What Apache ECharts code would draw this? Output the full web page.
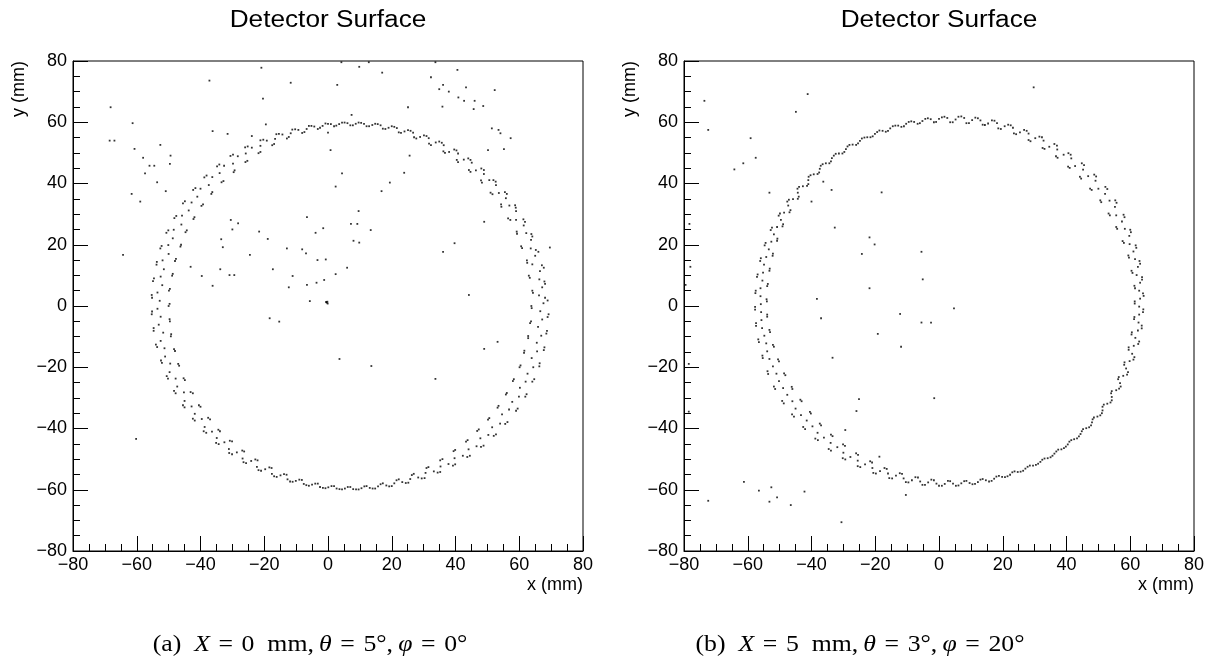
<!DOCTYPE html>
<html>
<head>
<meta charset="utf-8">
<title>Detector Surface</title>
<script src="https://cdn.jsdelivr.net/npm/echarts@6/dist/echarts.min.js"></script>
<style>
  html, body { margin: 0; padding: 0; background: #fff; }
  #chart { width: 1213px; height: 661px; }
</style>
</head>
<body>
<div id="chart"></div>
<script>
// hits on the detector surface, (x, y) in mm
// (a) X = 0 mm, theta = 5 deg, phi = 0 deg
const ringA = [
  [63.8,0],[68.9,1.8],[66.2,3.5],[64.1,5.0],[68.1,7.2],[66.3,8.7],[63.0,9.9],[67.7,12.5],[64.1,13.6],
  [62.4,14.9],[66.0,17.7],[63.6,18.8],[60.6,19.5],[64.1,22.7],[62.2,23.8],[59.2,24.3],[61.8,27.5],[59.0,28.1],
  [56.5,28.6],[58.9,32.1],[56.9,32.8],[54.3,33.2],[56.1,36.6],[53.6,36.9],[51.0,37.0],[52.6,40.6],[50.6,41.1],
  [48.0,41.0],[48.9,44.4],[46.4,44.3],[44.2,44.4],[44.7,47.7],[42.6,47.8],[40.4,47.7],[40.3,50.8],[38.0,50.3],
  [36.2,50.5],[35.7,53.3],[33.8,53.4],[31.7,53.0],[30.9,55.5],[28.9,55.2],[27.0,55.1],[25.9,57.2],[24.0,57.0],
  [22.2,56.7],[20.8,58.5],[19.0,58.2],[17.2,57.9],[15.6,59.4],[13.9,59.1],[12.1,58.7],[10.4,59.8],[8.7,59.5],
  [7.0,59.0],[5.2,59.9],[3.5,59.4],[1.9,58.7],[0.0,59.5],[-1.7,58.8],[-3.2,57.8],[-5.2,58.8],[-6.7,57.8],
  [-8.1,56.5],[-10.3,57.7],[-11.7,56.4],[-12.9,54.7],[-15.4,56.2],[-16.6,54.6],[-17.5,52.5],[-20.3,54.3],[-21.2,52.3],
  [-21.8,49.9],[-25.2,52.1],[-25.8,49.8],[-25.9,47.0],[-29.8,49.4],[-29.8,46.5],[-29.6,43.7],[-34.1,46.2],[-34.0,43.4],
  [-33.4,40.4],[-38.1,42.6],[-37.4,39.5],[-36.6,36.6],[-41.6,38.5],[-41.0,35.7],[-39.7,32.7],[-44.9,34.2],[-43.7,31.2],
  [-42.2,28.4],[-47.6,29.4],[-46.0,26.6],[-44.7,24.1],[-50.1,24.7],[-48.7,22.1],[-46.3,19.4],[-52.2,19.6],[-50.0,17.0],
  [-48.0,14.7],[-53.7,14.4],[-51.5,12.0],[-48.9,9.9],[-54.6,9.0],[-52.0,6.8],[-49.9,5.0],[-55.3,3.6],[-52.8,1.7],
  [-50.0,0],[-55.2,-1.8],[-52.5,-3.5],[-49.6,-5.0],[-54.7,-7.2],[-51.7,-8.7],[-49.3,-9.9],[-54.0,-12.6],[-51.3,-13.8],
  [-48.0,-14.7],[-52.4,-17.8],[-49.5,-18.8],[-46.7,-19.5],[-50.6,-22.9],[-47.8,-23.7],[-44.9,-24.2],[-48.3,-27.7],[-45.2,-28.2],
  [-42.4,-28.5],[-45.5,-32.4],[-42.8,-32.8],[-40.0,-32.9],[-42.4,-36.8],[-39.6,-36.9],[-37.0,-37.0],[-39.0,-40.9],[-36.4,-41.0],
  [-33.9,-40.9],[-35.1,-44.7],[-32.5,-44.5],[-30.1,-44.2],[-31.0,-48.0],[-28.6,-47.8],[-26.3,-47.5],[-26.5,-51.0],[-24.1,-50.6],
  [-22.1,-50.4],[-21.8,-53.6],[-19.7,-53.3],[-17.7,-52.9],[-16.9,-55.6],[-14.9,-55.3],[-13.0,-55.1],[-11.9,-57.3],[-10.1,-57.1],
  [-8.2,-56.8],[-6.8,-58.5],[-5.0,-58.3],[-3.2,-58.0],[-1.6,-59.4],[0.1,-59.2],[1.9,-58.8],[3.6,-59.8],[5.3,-59.6],
  [7.0,-59.1],[8.8,-59.9],[10.5,-59.5],[12.1,-58.8],[14.0,-59.6],[15.7,-58.9],[17.2,-57.9],[19.2,-58.9],[20.8,-57.9],
  [22.2,-56.6],[24.4,-57.8],[25.8,-56.5],[26.9,-54.8],[29.4,-56.3],[30.6,-54.5],[31.5,-52.6],[34.4,-54.4],[35.3,-52.4],
  [35.9,-50.0],[39.2,-52.1],[39.7,-49.7],[39.9,-47.0],[43.7,-49.3],[44.1,-46.8],[43.8,-43.8],[48.0,-46.0],[47.8,-43.2],
  [47.3,-40.3],[52.0,-42.4],[51.5,-39.6],[50.6,-36.6],[55.6,-38.5],[54.6,-35.4],[53.5,-32.6],[59.0,-34.2],[57.8,-31.3],
  [56.1,-28.4],[61.9,-29.6],[60.2,-26.7],[58.3,-23.9],[64.1,-24.7],[62.6,-22.1],[60.4,-19.4],[66.3,-19.7],[63.9,-17.0],
  [61.6,-14.6],[67.7,-14.4],[65.5,-12.0],[62.8,-9.8],[68.5,-9.0],[65.9,-6.8],[63.7,-5.0],[68.9,-3.6],[66.6,-1.7],
  [68.1,2.7],[64.3,4.3],[67.2,6.1],[67.9,8.0],[63.3,9.2],[66.5,11.4],[67.1,13.3],[62.5,14.1],[65.0,16.4],
  [65.2,18.3],[60.9,18.9],[63.7,21.6],[63.8,23.5],[59.3,23.6],[61.4,26.3],[61.3,28.3],[57.2,28.1],[59.0,31.0],
  [58.7,32.9],[54.4,32.4],[55.8,35.2],[55.5,37.2],[51.6,36.5],[52.7,39.5],[51.9,41.1],[48.3,40.3],[48.9,43.1],
  [48.1,44.9],[44.7,43.8],[45.1,46.8],[44.0,48.2],[40.8,47.0],[40.8,49.8],[39.6,51.1],[36.7,50.0],[36.3,52.5],
  [34.9,53.7],[32.3,52.5],[31.6,54.8],[30.1,55.7],[27.7,54.7],[26.7,56.6],[25.1,57.4],[22.9,56.5],[21.6,58.1],
  [20.0,58.7],[18.0,57.8],[16.5,59.0],[14.8,59.5],[12.9,58.7],[11.3,59.5],[9.6,59.9],[7.8,59.0],[6.1,59.7],
  [4.4,59.9],[2.6,58.9],[0.9,59.4],[-0.8,59.6],[-2.5,58.2],[-4.3,58.6],[-6.0,58.8],[-7.4,56.8],[-9.3,57.5],
  [-11.2,57.6],[-12.3,55.2],[-14.3,56.0],[-16.2,56.1],[-16.9,52.9],[-19.2,54.0],[-21.2,54.1],[-21.2,50.3],[-23.9,51.7],
  [-26.0,51.8],[-25.3,47.4],[-28.3,48.9],[-30.6,49.0],[-29.3,44.3],[-32.6,45.8],[-34.8,45.6],[-32.8,40.8],[-36.3,42.1],
  [-38.8,42.0],[-36.3,37.2],[-40.0,38.3],[-42.3,37.9],[-39.2,33.2],[-42.8,33.8],[-45.5,33.5],[-41.9,29.0],[-45.8,29.5],
  [-48.2,28.7],[-44.3,24.7],[-48.4,24.9],[-50.7,23.9],[-46.1,20.0],[-50.1,19.9],[-52.6,18.8],[-47.7,15.4],[-51.9,14.9],
  [-53.8,13.5],[-48.7,10.5],[-52.5,9.6],[-54.9,8.1],[-49.6,5.6],[-53.5,4.4],[-55.2,2.7],[-49.7,0.7],[-53.5,-0.9],
  [-55.3,-2.7],[-49.7,-4.3],[-53.1,-6.1],[-54.7,-8.1],[-49.2,-9.2],[-52.5,-11.4],[-53.6,-13.4],[-48.3,-14.1],[-51.1,-16.5],
  [-52.1,-18.6],[-47.0,-18.9],[-49.7,-21.6],[-50.2,-23.7],[-45.3,-23.6],[-47.3,-26.3],[-47.8,-28.5],[-43.1,-28.1],[-45.0,-31.0],
  [-45.0,-33.1],[-40.5,-32.4],[-41.8,-35.2],[-41.8,-37.4],[-37.6,-36.5],[-38.7,-39.5],[-38.2,-41.4],[-34.4,-40.4],[-34.9,-43.1],
  [-34.3,-45.1],[-30.8,-44.0],[-31.1,-46.7],[-30.1,-48.4],[-26.9,-47.2],[-26.8,-49.8],[-25.7,-51.3],[-22.8,-50.1],[-22.3,-52.5],
  [-21.0,-53.8],[-18.4,-52.7],[-17.6,-54.8],[-16.1,-55.8],[-13.8,-54.9],[-12.7,-56.6],[-11.1,-57.4],[-9.0,-56.7],[-7.6,-58.1],
  [-6.0,-58.7],[-4.0,-58.0],[-2.5,-59.1],[-0.8,-59.5],[1.1,-58.8],[2.7,-59.6],[4.4,-59.9],[6.2,-59.1],[7.9,-59.8],
  [9.6,-59.9],[11.4,-58.9],[13.1,-59.4],[14.8,-59.6],[16.5,-58.2],[18.3,-58.6],[20.0,-58.8],[21.5,-56.9],[23.3,-57.5],
  [25.2,-57.7],[26.3,-55.2],[28.3,-56.0],[30.3,-56.2],[30.9,-52.9],[33.2,-54.0],[35.2,-54.2],[35.2,-50.4],[37.8,-51.6],
  [39.9,-51.7],[39.4,-47.4],[42.3,-48.9],[44.5,-48.9],[43.3,-44.3],[46.6,-45.8],[48.8,-45.6],[46.8,-40.8],[50.3,-42.1],
  [52.7,-41.9],[50.2,-37.1],[54.0,-38.4],[56.3,-37.9],[53.2,-33.2],[56.8,-33.8],[59.5,-33.5],[55.8,-28.9],[59.9,-29.6],
  [62.3,-28.8],[58.0,-24.5],[62.0,-24.7],[64.7,-23.9],[60.1,-20.0],[64.4,-20.0],[66.4,-18.7],[61.5,-15.3],[65.6,-14.8],
  [67.9,-13.5],[62.8,-10.5],[66.9,-9.7],[68.7,-8.1],[63.4,-5.6],[67.2,-4.4],[69.2,-2.7],[63.9,-0.7],[67.6,0.9]
];
const strayA = [
  [-68.2,64.9],[-68.5,54],[-67,54],[-61.3,59.7],[-60.7,51.3],[-58,48.4],[-56,45.8],[-54.5,45.8],[-52.6,52.6],
  [-49.4,49.1],[-49.6,46.4],[-57.4,43.3],[-53.6,40.4],[-61.6,36.6],[-58.9,34.1],[-50.9,37.5],[-64.3,16.7],
  [-37.2,73.6],[-36.2,57.1],[-31.5,56.2],[-23.9,55.5],[-20.9,77.8],[-20.4,67.7],[-19.5,59.3],[-11.7,72.9],
  [2.9,72.2],[4.2,79.6],[9.8,78.1],[12.8,79.6],[17,76.2],[25.1,64.9],[32.3,74.7],[33.7,79.6],[36.1,72.2],
  [34.9,70.8],[37.9,70],[40.6,77.1],[40.9,68.1],[43.3,71.4],[42.7,67],[46,67],[45.7,64.3],[48.7,65.3],
  [52.3,70.5],[35.9,65.1],[51.4,58],[53.5,57.5],[54.1,56.4],[57.3,54.8],[55.2,51.2],[50.2,50.9],[25.6,49.1],
  [23.9,43.5],[19.4,40.3],[16.8,37.5],[7.4,62.4],[0,56.6],[0.8,50.9],[4.4,43.3],[2.4,39],[9.6,31],
  [7.2,26.8],[9.2,26.8],[13.4,24.8],[8,21.3],[9.8,20.7],[-6.6,29],[-3.9,23.9],[-1.5,25.4],[-12.9,18.8],
  [-8.1,18.5],[-6.9,17.2],[-3.3,15],[-0.7,15.2],[6,12.5],[2.4,10.4],[-1.2,8.5],[-3.6,7.6],[-6.6,6.9],
  [-11.1,9.8],[-12.3,6.1],[-5.7,1.6],[-17.3,12],[-21.6,24.3],[-18.9,21.9],[-24.5,16.7],[-30.5,28.1],
  [-28.2,27],[-30,25],[-33.5,21.8],[-33,19.2],[-33.8,12],[-30.9,10.1],[-29.4,10.1],[-39.6,9.8],[-43.1,12.8],
  [-36.2,6.6],[39.7,20.5],[36.1,17.7],[44.2,3.6],[49,27.5],[69.6,19.1],[-0.4,1.1],[-0.1,0.8],[-0.6,1.3],
  [-0.2,1.4],[-18.3,-4],[-15.3,-5.1],[3.6,-17.3],[13.6,-19.6],[33.7,-23.8],[49,-14],[53.2,-11.7],[-60.2,-43.4]
];
// (b) X = 5 mm, theta = 3 deg, phi = 20 deg
const ringB = [
  [61.4,1.5],[64.2,3.3],[62.8,5.0],[61.3,6.6],[63.7,8.6],[62.0,10.1],[60.4,11.5],[63.1,13.8],[61.5,15.3],
  [59.4,16.5],[61.9,19.0],[59.8,20.2],[57.6,21.2],[60.2,24.1],[58.3,25.2],[55.6,25.8],[58.2,29.0],[55.6,29.6],
  [53.2,30.2],[55.7,33.7],[53.5,34.4],[50.6,34.5],[52.8,38.2],[50.0,38.3],[47.4,38.3],[49.3,42.3],[46.8,42.4],
  [44.2,42.2],[45.5,46.0],[42.7,45.7],[40.5,45.5],[41.3,49.4],[39.1,49.4],[36.7,48.9],[37.0,52.4],[34.6,52.0],
  [32.5,51.6],[32.3,55.1],[30.2,54.8],[28.1,54.2],[27.5,57.2],[25.4,56.7],[23.5,56.4],[22.5,59.0],[20.6,58.7],
  [18.6,58.0],[17.4,60.5],[15.4,59.6],[13.7,59.2],[12.2,61.3],[10.4,60.7],[8.6,59.7],[7.0,61.9],[5.2,60.9],
  [3.5,60.0],[1.7,61.8],[0.0,61.1],[-1.6,60.0],[-3.5,61.3],[-5.2,60.4],[-6.7,59.5],[-8.7,60.3],[-10.3,59.5],
  [-11.8,58.5],[-13.7,58.9],[-15.3,58.0],[-16.7,56.9],[-18.7,57.3],[-20.1,56.2],[-21.5,55.1],[-23.4,55.0],[-24.8,53.9],
  [-26.0,52.6],[-28.1,52.6],[-29.2,51.2],[-30.3,49.8],[-32.4,49.7],[-33.6,48.3],[-34.4,46.6],[-36.5,46.3],[-37.4,44.8],
  [-38.1,43.1],[-40.3,42.7],[-41.0,41.1],[-41.4,39.2],[-43.9,38.9],[-44.3,37.0],[-44.3,35.0],[-47.1,34.7],[-47.3,32.8],
  [-46.9,30.6],[-49.9,30.2],[-49.6,28.1],[-49.1,26.0],[-52.4,25.6],[-51.8,23.4],[-50.8,21.3],[-54.4,20.6],[-53.4,18.5],
  [-52.2,16.4],[-55.9,15.6],[-54.9,13.5],[-53.2,11.5],[-56.9,10.3],[-55.4,8.3],[-53.9,6.5],[-57.5,5.0],[-56.0,3.2],
  [-54.0,1.5],[-57.7,-0.3],[-55.8,-2.0],[-53.9,-3.5],[-57.4,-5.6],[-55.5,-7.2],[-53.0,-8.5],[-56.7,-10.9],[-54.2,-12.2],
  [-51.8,-13.3],[-55.4,-16.2],[-53.2,-17.3],[-50.2,-18.1],[-53.8,-21.3],[-51.0,-22.1],[-48.2,-22.6],[-51.8,-26.3],[-48.9,-26.8],
  [-46.0,-27.1],[-49.2,-31.0],[-46.0,-31.1],[-43.1,-31.1],[-46.1,-35.4],[-43.3,-35.6],[-40.2,-35.1],[-42.6,-39.5],[-39.7,-39.3],
  [-37.0,-39.0],[-38.8,-43.3],[-36.1,-43.0],[-33.4,-42.5],[-34.6,-46.7],[-31.9,-46.1],[-29.5,-45.7],[-30.2,-49.7],[-27.8,-49.3],
  [-25.4,-48.6],[-25.5,-52.3],[-23.2,-51.7],[-21.0,-51.1],[-20.6,-54.5],[-18.5,-53.9],[-16.4,-53.2],[-15.6,-56.2],[-13.5,-55.4],
  [-11.6,-54.8],[-10.4,-57.5],[-8.5,-56.9],[-6.6,-56.0],[-5.2,-58.4],[-3.4,-57.6],[-1.6,-56.9],[0.0,-58.7],[1.8,-58.1],
  [3.5,-57.2],[5.3,-58.7],[7.0,-57.9],[8.6,-57.1],[10.5,-58.2],[12.2,-57.5],[13.7,-56.5],[15.7,-57.3],[17.3,-56.4],
  [18.8,-55.5],[20.7,-55.9],[22.3,-55.1],[23.7,-54.0],[25.6,-54.1],[27.1,-53.1],[28.5,-52.1],[30.4,-51.9],[31.8,-50.9],
  [33.1,-49.8],[35.0,-49.4],[36.2,-48.2],[37.4,-46.9],[39.2,-46.4],[40.4,-45.2],[41.5,-43.8],[43.3,-43.2],[44.4,-41.8],
  [45.2,-40.2],[47.1,-39.6],[48.0,-38.0],[48.6,-36.4],[50.6,-35.7],[51.3,-34.1],[51.7,-32.2],[53.8,-31.5],[54.2,-29.7],
  [54.2,-27.8],[56.5,-27.0],[56.8,-25.2],[56.4,-23.2],[59.0,-22.4],[58.7,-20.4],[58.2,-18.4],[61.0,-17.5],[60.6,-15.6],
  [59.5,-13.5],[62.5,-12.4],[61.6,-10.4],[60.5,-8.6],[63.6,-7.3],[62.6,-5.4],[61.3,-3.6],[64.0,-2.0],[62.8,-0.2],
  [64.0,4.1],[61.5,5.8],[63.1,7.6],[63.7,9.4],[60.7,10.8],[62.4,12.8],[62.9,14.7],[59.6,15.8],[61.0,17.8],
  [61.7,19.8],[58.0,20.6],[59.7,22.9],[60.0,24.9],[55.9,25.2],[57.4,27.6],[57.9,29.8],[53.6,29.6],[55.2,32.4],
  [55.3,34.5],[50.9,33.9],[52.1,36.6],[52.2,38.9],[47.9,37.9],[49.1,40.9],[48.7,42.9],[44.6,41.6],[45.2,44.5],
  [44.8,46.6],[41.0,45.1],[41.5,48.2],[40.6,49.9],[37.2,48.4],[37.1,51.1],[36.2,52.9],[33.1,51.3],[32.8,54.0],
  [31.5,55.3],[28.7,53.8],[28.1,56.3],[26.7,57.5],[24.2,56.1],[23.2,58.2],[21.7,59.2],[19.4,57.8],[18.2,59.7],
  [16.6,60.6],[14.4,59.1],[13.0,60.6],[11.4,61.5],[9.4,59.7],[7.9,61.4],[6.1,61.8],[4.3,60.0],[2.6,61.4],
  [0.9,61.6],[-0.9,60.1],[-2.6,61.0],[-4.3,61.1],[-6.0,59.7],[-7.8,60.1],[-9.5,60.1],[-11.0,58.7],[-12.8,58.9],
  [-14.5,58.7],[-16.0,57.2],[-17.7,57.2],[-19.4,56.8],[-20.8,55.4],[-22.5,55.1],[-24.2,54.7],[-25.4,53.1],[-27.1,52.7],
  [-28.7,52.1],[-29.7,50.3],[-31.4,49.8],[-33.0,49.1],[-33.9,47.2],[-35.5,46.6],[-37.1,45.8],[-37.6,43.6],[-39.3,43.0],
  [-40.9,42.2],[-41.0,39.8],[-42.7,39.1],[-44.4,38.3],[-44.0,35.7],[-45.8,34.9],[-47.6,34.1],[-46.6,31.3],[-48.6,30.5],
  [-50.3,29.5],[-48.9,26.7],[-50.8,25.8],[-52.8,24.8],[-50.7,22.0],[-52.6,21.0],[-54.7,19.8],[-52.1,17.1],[-54.2,16.0],
  [-56.1,14.7],[-53.1,12.2],[-55.2,10.9],[-57.1,9.5],[-53.7,7.2],[-56.0,5.8],[-57.6,4.2],[-54.1,2.2],[-55.9,0.6],
  [-57.7,-1.2],[-53.9,-2.8],[-55.7,-4.6],[-57.4,-6.5],[-53.2,-7.8],[-54.8,-9.7],[-56.5,-11.8],[-52.1,-12.7],[-53.9,-14.8],
  [-55.3,-17.0],[-50.5,-17.4],[-52.1,-19.7],[-53.6,-22.2],[-48.6,-22.0],[-50.2,-24.5],[-51.4,-27.1],[-46.2,-26.4],[-47.6,-29.0],
  [-48.7,-31.8],[-43.5,-30.6],[-45.0,-33.5],[-45.5,-36.1],[-40.5,-34.6],[-41.5,-37.4],[-42.0,-40.2],[-37.4,-38.4],[-38.1,-41.4],
  [-38.0,-43.8],[-33.9,-42.0],[-34.0,-44.7],[-33.9,-47.2],[-30.1,-45.2],[-30.0,-47.9],[-29.4,-50.1],[-26.0,-48.1],[-25.5,-50.5],
  [-24.7,-52.6],[-21.6,-50.7],[-20.9,-52.9],[-19.8,-54.7],[-17.1,-52.9],[-16.0,-54.7],[-14.7,-56.3],[-12.3,-54.6],[-11.1,-56.3],
  [-9.6,-57.6],[-7.4,-55.9],[-5.9,-57.3],[-4.4,-58.4],[-2.4,-56.7],[-0.8,-58.0],[0.9,-58.7],[2.8,-57.1],[4.4,-58.0],
  [6.1,-58.6],[7.9,-57.2],[9.6,-57.8],[11.3,-58.1],[13.0,-56.7],[14.7,-56.9],[16.5,-57.1],[18.0,-55.7],[19.8,-55.8],
  [21.5,-55.6],[23.0,-54.3],[24.7,-54.2],[26.4,-53.8],[27.8,-52.5],[29.5,-52.1],[31.1,-51.5],[32.4,-50.2],[34.1,-49.7],
  [35.6,-48.9],[36.8,-47.5],[38.4,-46.8],[39.8,-45.9],[40.9,-44.3],[42.4,-43.5],[43.9,-42.6],[44.8,-40.9],[46.2,-39.9],
  [47.7,-39.0],[48.2,-37.0],[49.7,-36.1],[51.1,-35.0],[51.3,-32.9],[52.8,-31.9],[54.2,-30.8],[54.0,-28.5],[55.6,-27.5],
  [57.0,-26.3],[56.2,-23.9],[57.8,-22.8],[59.3,-21.6],[58.1,-19.2],[59.8,-18.0],[61.3,-16.7],[59.5,-14.3],[61.1,-13.0],
  [62.8,-11.6],[60.4,-9.3],[62.4,-8.0],[63.6,-6.4],[61.2,-4.3],[62.8,-2.8],[64.1,-1.1],[61.4,0.8],[63.1,2.4]
];
const strayB = [
  [-73.6,67],[-72.4,57.5],[-78.3,26.8],[-78,12.8],[-79.5,6.9],[-64.2,44.6],[-61.4,46.6],[-57.5,48.4],
  [-59.1,54.8],[-44.9,63.4],[-41.2,69.2],[29.7,71.4],[-53.2,37],[-36.3,40.6],[-40,34.1],[-33.7,37.9],
  [-18,37.1],[-32.7,25.6],[-21.8,22.4],[-20.2,20.1],[-24.2,17],[-5.5,17.7],[-5.1,8.7],[-21.8,5.8],
  [-38.3,2.3],[-37,-4],[-12.2,-2.6],[4.7,-0.8],[-5.5,-5.4],[-2.5,-5.4],[-19.2,-9.1],[-11.9,-13.3],
  [-33.4,-16.9],[-25.1,-30.4],[-25.9,-34.3],[-1.5,-30.1],[-29.4,-40.5],[-18.7,-49.2],[-10.4,-61.7],
  [-61.2,-57.4],[-56.5,-60.3],[-52.6,-59.2],[-53.2,-63.9],[-50.8,-62.5],[-42.2,-60.6],[-46.5,-65],
  [-72.4,-63.6],[-30.6,-70.6],[-78.5,-18.9],[-78.5,-34.5]
];
const axisTicks = { min: -80, max: 80, step: 20 };
const panelTitles = ['Detector Surface', 'Detector Surface'];
const axisNames = { x: 'x (mm)', y: 'y (mm)' };
const captions = [
  { label: 'a', X: 0, theta: 5, phi: 0 },
  { label: 'b', X: 5, theta: 3, phi: 20 }
];

const SANS = '"Liberation Sans", Arial, Helvetica, sans-serif';
const SERIF = '"Liberation Serif", "Times New Roman", serif';

const chart = echarts.init(document.getElementById('chart'), null, { renderer: 'canvas' });

const grids = [
  { left: 73, top: 61, width: 510, height: 490 },
  { left: 684, top: 61, width: 510, height: 490 }
];
const captionCenters = [310, 860];

const tickLabel = v => (v < 0 ? '\u2212' + Math.abs(v) : String(v));

function makeAxis(idx, isX) {
  return {
    type: 'value',
    gridIndex: idx,
    min: axisTicks.min,
    max: axisTicks.max,
    interval: axisTicks.step,
    axisLine: { show: true, onZero: false, lineStyle: { color: '#000', width: 1 } },
    axisTick: { show: true, inside: true, length: 15, lineStyle: { color: '#000', width: 1 } },
    minorTick: { show: true, splitNumber: 4, length: 7, lineStyle: { color: '#000', width: 1 } },
    splitLine: { show: false },
    minorSplitLine: { show: false },
    axisLabel: {
      color: '#000', fontSize: 18, fontFamily: SANS,
      margin: isX ? 5 : 6,
      showMinLabel: true, showMaxLabel: true,
      formatter: tickLabel
    }
  };
}

function scatter(idx, data) {
  return {
    type: 'scatter',
    xAxisIndex: idx,
    yAxisIndex: idx,
    data: data,
    symbol: 'rect',
    symbolSize: 1.8,
    itemStyle: { color: '#000' },
    silent: true,
    animation: false
  };
}

// LaTeX-like subfigure caption; italic math letters, wide math spacing
function caption(cx, c) {
  const sp = '\u2004';
  return {
    type: 'text',
    x: cx, y: 645,
    scaleX: 1.12,
    style: {
      text: '{n|(' + c.label + ')\u2002}{i|X}{n|' + sp + '=' + sp + c.X + '\u2002mm,\u2009}' +
            '{i|\u03b8}{n|' + sp + '=' + sp + c.theta + '\u00b0,\u2009}' +
            '{i|\u03c6}{n|' + sp + '=' + sp + c.phi + '\u00b0}',
      font: '23px ' + SERIF,
      fill: '#000',
      align: 'center',
      verticalAlign: 'middle',
      rich: {
        n: { fontFamily: SERIF, fontSize: 23, fill: '#000' },
        i: { fontFamily: SERIF, fontSize: 23, fontStyle: 'italic', fill: '#000' }
      }
    }
  };
}

const graphics = [];
grids.forEach((g, i) => {
  graphics.push({
    type: 'text', x: g.left + g.width / 2, y: 21, scaleX: 1.14,
    style: { text: panelTitles[i], font: '23px ' + SANS, fill: '#000', align: 'center', verticalAlign: 'middle' }
  });
  graphics.push({
    type: 'text', x: g.left + g.width, y: 585,
    style: { text: axisNames.x, font: '18px ' + SANS, fill: '#000', align: 'right', verticalAlign: 'middle' }
  });
  graphics.push({
    type: 'text', x: g.left - 54, y: g.top, rotation: Math.PI / 2,
    style: { text: axisNames.y, font: '18px ' + SANS, fill: '#000', align: 'right', verticalAlign: 'middle' }
  });
  graphics.push(caption(captionCenters[i], captions[i]));
});

chart.setOption({
  animation: false,
  backgroundColor: '#fff',
  grid: grids.map(g => Object.assign({ show: true, borderColor: '#000', borderWidth: 1, backgroundColor: 'transparent' }, g)),
  xAxis: [makeAxis(0, true), makeAxis(1, true)],
  yAxis: [makeAxis(0, false), makeAxis(1, false)],
  series: [
    scatter(0, ringA.concat(strayA)),
    scatter(1, ringB.concat(strayB))
  ],
  graphic: graphics
});

window.addEventListener('resize', () => chart.resize());
</script>
</body>
</html>
